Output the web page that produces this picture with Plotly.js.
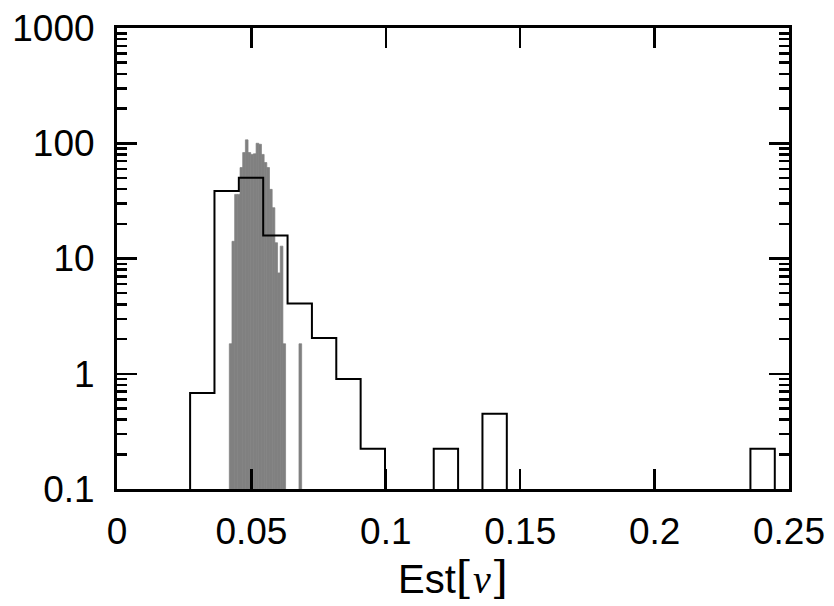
<!DOCTYPE html>
<html>
<head>
<meta charset="utf-8">
<script src="https://cdn.plot.ly/plotly-3.0.1.min.js"></script>
<style>
  html, body { margin: 0; padding: 0; background: #ffffff; }
  #chart { width: 834px; height: 606px; }
</style>
</head>
<body>
<div id="chart"></div>
<script>
// Fine-binned density histogram (filled gray)
const fineStart = 0.04178;
const fineWidth = 0.000997;
const fineDensity = [1.82, 14.1, 36, 36, 61.5, 83, 107, 83, 80, 81, 100, 98, 80, 68,
                     61.5, 39.8, 27.6, 13.7, 7.5, 12.8, 1.82, 0, 0, 0, 0, 0, 1.82];

// Coarse-binned density histogram (black step outline)
const coarseStart = 0.0272;
const coarseWidth = 0.009063;
const coarseDensity = [0.68, 38.5, 50.3, 15.85, 4.06, 2.04, 0.90, 0.224, 0, 0, 0.224, 0,
                       0.449, 0, 0, 0, 0, 0, 0, 0, 0, 0, 0, 0.224];

// Axis ticks
const xTickVals = [0, 0.05, 0.1, 0.15, 0.2, 0.25];
const xTickText = ["0", "0.05", "0.1", "0.15", "0.2", "0.25"];
const yTickVals = [0.1, 1, 10, 100, 1000];
const yTickText = ["0.1", "1", "10", "100", "1000"];

// Bar centres for the filled histogram; empty bins are skipped
const fineX = [], fineY = [];
fineDensity.forEach((d, i) => {
  if (d > 0) {
    fineX.push(fineStart + (i + 0.5) * fineWidth);
    fineY.push(d);
  }
});

// Step outline through the coarse bin edges; empty bins fall below the axis floor
const floorVal = 1e-3;
const stepX = [coarseStart], stepY = [floorVal];
coarseDensity.forEach((d, i) => {
  const h = d > 0 ? d : floorVal;
  stepX.push(coarseStart + i * coarseWidth, coarseStart + (i + 1) * coarseWidth);
  stepY.push(h, h);
});
stepX.push(coarseStart + coarseDensity.length * coarseWidth);
stepY.push(floorVal);

// Minor log ticks 2..9 in each decade
const minorVals = [];
for (let e = -1; e < 3; e++) {
  for (let m = 2; m <= 9; m++) minorVals.push(m * Math.pow(10, e));
}

const sans = "Liberation Sans";
const tickFont = { family: sans, size: 37, color: "#000", weight: "normal" };

// Axis title: upright "Est" followed by a math-style bracketed italic v
const serifSpan = "font-family:'DejaVu Serif', serif;font-weight:200";
const xTitle = 'Est<span style="' + serifSpan + ';font-size:44px">[</span>' +
               '<span style="font-family:\'Liberation Serif\', serif"><i>v</i></span>' +
               '<span style="' + serifSpan + ';font-size:44px">]</span>';

const traces = [
  {
    type: "bar",
    x: fineX,
    y: fineY,
    width: fineWidth,
    marker: { color: "#808080", line: { width: 0.7, color: "#808080" } },
    hoverinfo: "skip"
  },
  {
    type: "scatter",
    mode: "lines",
    x: stepX,
    y: stepY,
    line: { color: "#000", width: 2 },
    hoverinfo: "skip"
  }
];

const layout = {
  width: 834,
  height: 606,
  margin: { l: 117, r: 45, t: 28, b: 117 },
  paper_bgcolor: "#fff",
  plot_bgcolor: "#fff",
  showlegend: false,
  xaxis: {
    range: [0, 0.25],
    tickmode: "array",
    tickvals: xTickVals,
    ticktext: xTickText,
    ticks: "inside",
    ticklen: 20,
    tickwidth: 2.5,
    tickcolor: "#000",
    showline: true,
    linewidth: 3,
    linecolor: "#000",
    mirror: "ticks",
    showgrid: false,
    zeroline: false,
    tickfont: tickFont,
    ticklabelstandoff: 8,
    title: {
      text: xTitle,
      font: { family: sans, size: 40, color: "#000", weight: "normal" },
      standoff: 4
    }
  },
  yaxis: {
    type: "log",
    range: [-1, 3],
    tickmode: "array",
    tickvals: yTickVals,
    ticktext: yTickText,
    ticks: "inside",
    ticklen: 20,
    tickwidth: 2.5,
    tickcolor: "#000",
    minor: {
      tickmode: "array",
      tickvals: minorVals,
      ticks: "inside",
      ticklen: 10,
      tickwidth: 2.5,
      tickcolor: "#000",
      showgrid: false
    },
    showline: true,
    linewidth: 3,
    linecolor: "#000",
    mirror: "ticks",
    showgrid: false,
    zeroline: false,
    tickfont: tickFont,
    ticklabelstandoff: 12
  }
};

Plotly.newPlot("chart", traces, layout, { staticPlot: true, displayModeBar: false });
</script>
</body>
</html>
